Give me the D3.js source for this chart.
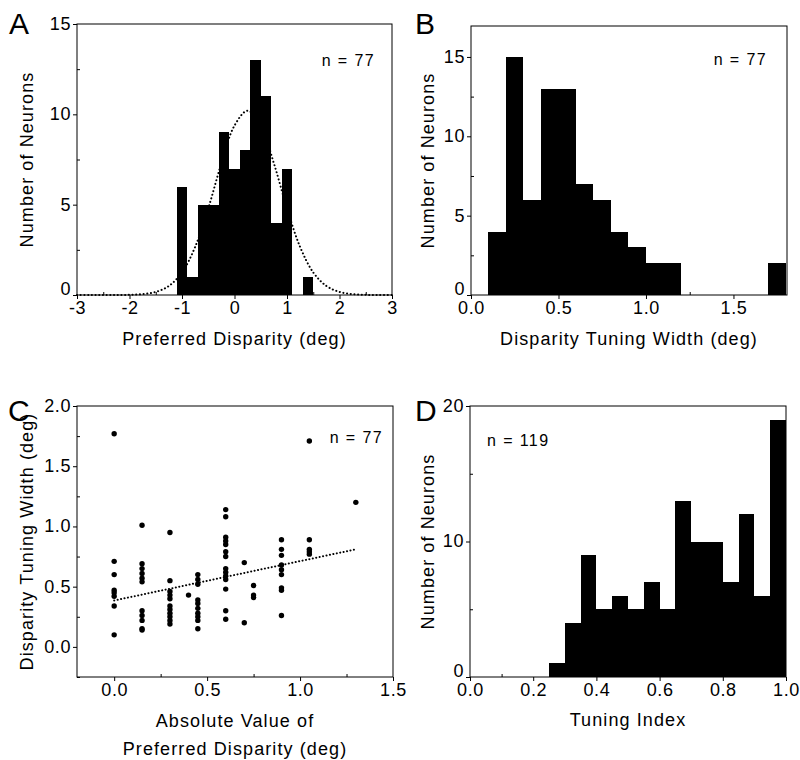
<html>
<head>
<meta charset="utf-8">
<style>
  body { margin: 0; background: #fff; }
  text { font-family: "Liberation Sans", Arial, sans-serif; fill: #000; }
</style>
</head>
<body>
<svg id="chart"></svg>
<script src="https://cdn.jsdelivr.net/npm/d3@7/dist/d3.min.js"></script>
<script>
// A: preferred disparity histogram (bin lower edges, width 0.2)
var dispBinStart = [-1.1, -0.9, -0.7, -0.5, -0.3, -0.1, 0.1, 0.3, 0.5, 0.7, 0.9, 1.3];
var dispCounts   = [6, 1, 5, 5, 9, 7, 8, 13, 11, 4, 7, 1];
var dispBinWidth = 0.2;
// dotted gaussian fit
var fitCurveX = [-3, -2.75, -2.5, -2.25, -2, -1.75, -1.5, -1.25, -1, -0.75, -0.5, -0.25, 0,
                 0.25, 0.5, 0.75, 1, 1.25, 1.5, 1.75, 2, 2.25, 2.5, 2.75, 3];
var fitCurveY = [0, 0, 0, 0.002, 0.01, 0.05, 0.17, 0.5, 1.25, 2.66, 4.79, 7.29, 9.38,
                 10.2, 9.38, 7.29, 4.79, 2.66, 1.25, 0.5, 0.17, 0.05, 0.01, 0, 0];

// B: disparity tuning width histogram (width 0.1)
var widthBinStart = [0.1, 0.2, 0.3, 0.4, 0.5, 0.6, 0.7, 0.8, 0.9, 1.0, 1.1, 1.7];
var widthCounts   = [4, 15, 6, 13, 13, 7, 6, 4, 3, 2, 2, 2];
var widthBinWidth = 0.1;

// C: scatter, |preferred disparity| columns and tuning widths
var scatterCols = [0, 0.15, 0.3, 0.4, 0.45, 0.6, 0.7, 0.75, 0.9, 1.05, 1.3];
var scatterVals = [
  [1.77, 0.71, 0.60, 0.47, 0.45, 0.42, 0.34, 0.10],
  [1.01, 0.69, 0.65, 0.61, 0.57, 0.54, 0.30, 0.26, 0.22, 0.15, 0.14],
  [0.95, 0.55, 0.46, 0.43, 0.40, 0.34, 0.31, 0.28, 0.25, 0.22, 0.19],
  [0.43],
  [0.60, 0.56, 0.52, 0.39, 0.36, 0.32, 0.28, 0.25, 0.22, 0.15],
  [1.14, 1.08, 0.91, 0.88, 0.85, 0.79, 0.75, 0.65, 0.62, 0.59, 0.56, 0.48, 0.30, 0.23],
  [0.70, 0.20],
  [0.51, 0.43, 0.41],
  [0.89, 0.81, 0.76, 0.68, 0.64, 0.60, 0.49, 0.47, 0.26],
  [1.71, 0.89, 0.81, 0.79, 0.77],
  [1.20]
];
var regX = [0, 1.3];
var regY = [0.385, 0.81];

// D: tuning index histogram (width 0.05)
var indexBinStart = [0.25, 0.3, 0.35, 0.4, 0.45, 0.5, 0.55, 0.6, 0.65, 0.7, 0.75, 0.8, 0.85, 0.9, 0.95];
var indexCounts   = [1, 4, 9, 5, 6, 5, 7, 5, 13, 10, 10, 7, 12, 6, 19];
var indexBinWidth = 0.05;

var svg = d3.select("svg#chart")
    .attr("width", 800)
    .attr("height", 760);

var LS = "1.1px";

// plain hyphen for negatives, like the original figure
function fmtInt(d) { return d < 0 ? "-" + Math.abs(d) : String(d); }
var fmt1 = d3.format(".1f");

function makePanel(o) {
    var w = o.right - o.left, h = o.bottom - o.top;
    var g = svg.append("g").attr("transform", "translate(" + o.left + "," + o.top + ")");
    var x = d3.scaleLinear().domain(o.xDomain).range([0, w]);
    var y = d3.scaleLinear().domain(o.yDomain).range([h, 0]);

    // minor ticks point inward
    g.append("g").attr("transform", "translate(0," + h + ")")
        .call(d3.axisBottom(x).tickValues(o.xMinor).tickSize(-3).tickFormat(""))
        .call(function(s) { s.select(".domain").remove(); });
    g.append("g")
        .call(d3.axisLeft(y).tickValues(o.yMinor).tickSize(-3).tickFormat(""))
        .call(function(s) { s.select(".domain").remove(); });

    var xa = g.append("g").attr("transform", "translate(0," + h + ")")
        .call(d3.axisBottom(x).tickValues(o.xTicks).tickSize(4).tickPadding(2).tickFormat(o.xFmt));
    var ya = g.append("g")
        .call(d3.axisLeft(y).tickValues(o.yTicks).tickSize(4).tickPadding(2).tickFormat(o.yFmt));
    [xa, ya].forEach(function(a) {
        a.select(".domain").remove();
        a.selectAll("text").style("font-size", "18px").style("letter-spacing", "0.6px");
    });
    // bottom y label sits a little above its tick, as in the original
    ya.selectAll("text").attr("dy", function(d) { return d === o.yDomain[0] ? "-0.05em" : "0.3em"; });
    svg.selectAll(".tick line").attr("stroke", "#000");

    var marks = g.append("g");

    g.append("rect")
        .attr("width", w).attr("height", h)
        .attr("fill", "none").attr("stroke", "#000").attr("stroke-width", 1);

    svg.append("text")
        .attr("x", o.letterX).attr("y", o.letterY)
        .style("font-size", "30px")
        .text(o.letter);

    svg.append("text")
        .attr("transform", "translate(" + o.yTitleX + "," + (o.top + h / 2) + ") rotate(-90)")
        .attr("text-anchor", "middle")
        .style("font-size", "18px").style("letter-spacing", LS)
        .text(o.yTitle);

    o.xTitle.forEach(function(t, i) {
        svg.append("text")
            .attr("x", o.left + w / 2).attr("y", o.xTitleY + i * 28)
            .attr("text-anchor", "middle")
            .style("font-size", "18px").style("letter-spacing", LS)
            .text(t);
    });

    return {g: marks, x: x, y: y, w: w, h: h};
}

function drawBars(p, starts, counts, bw) {
    p.g.selectAll("rect.bar")
        .data(starts.map(function(s, i) { return {x0: s, x1: s + bw, n: counts[i]}; }))
        .enter().append("rect")
        .attr("class", "bar")
        .attr("x", function(d) { return p.x(d.x0); })
        .attr("width", function(d) { return p.x(d.x1) - p.x(d.x0); })
        .attr("y", function(d) { return p.y(d.n); })
        .attr("height", function(d) { return p.y(0) - p.y(d.n); })
        .attr("fill", "#000")
        .attr("shape-rendering", "crispEdges");
}

function nLabel(p, tx, ty, anchor, txt) {
    p.g.append("text")
        .attr("x", tx).attr("y", ty)
        .attr("text-anchor", anchor)
        .style("font-size", "16px").style("letter-spacing", "1.4px")
        .text(txt);
}

// ---- A ----
var pA = makePanel({
    left: 77, right: 392, top: 24, bottom: 295,
    xDomain: [-3, 3], yDomain: [0, 15],
    xTicks: [-3, -2, -1, 0, 1, 2, 3], xMinor: [-2.5, -1.5, -0.5, 0.5, 1.5, 2.5],
    yTicks: [0, 5, 10, 15], yMinor: [2.5, 7.5, 12.5],
    xFmt: fmtInt, yFmt: fmtInt,
    letter: "A", letterX: 9, letterY: 34,
    yTitle: "Number of Neurons", yTitleX: 33,
    xTitle: ["Preferred Disparity (deg)"], xTitleY: 345
});
drawBars(pA, dispBinStart, dispCounts, dispBinWidth);
pA.g.append("path")
    .datum(fitCurveX.map(function(v, i) { return [v, fitCurveY[i]]; }))
    .attr("d", d3.line()
        .x(function(d) { return pA.x(d[0]); })
        .y(function(d) { return pA.y(d[1]); })
        .curve(d3.curveCatmullRom))
    .attr("fill", "none").attr("stroke", "#000")
    .attr("stroke-width", 2).attr("stroke-linecap", "round")
    .attr("stroke-dasharray", "0.1,3.6");
nLabel(pA, pA.w - 17, 42, "end", "n = 77");

// ---- B ----
var pB = makePanel({
    left: 471, right: 787, top: 26, bottom: 295,
    xDomain: [0, 1.806], yDomain: [0, 16.95],
    xTicks: [0, 0.5, 1.0, 1.5], xMinor: [0.25, 0.75, 1.25, 1.75],
    yTicks: [0, 5, 10, 15], yMinor: [2.5, 7.5, 12.5],
    xFmt: fmt1, yFmt: fmtInt,
    letter: "B", letterX: 415, letterY: 34,
    yTitle: "Number of Neurons", yTitleX: 434,
    xTitle: ["Disparity Tuning Width (deg)"], xTitleY: 345
});
drawBars(pB, widthBinStart, widthCounts, widthBinWidth);
nLabel(pB, pB.w - 20, 39, "end", "n = 77");

// ---- C ----
var pC = makePanel({
    left: 77, right: 393, top: 406, bottom: 677,
    xDomain: [-0.2, 1.5], yDomain: [-0.25, 2.0],
    xTicks: [0, 0.5, 1.0, 1.5], xMinor: [0.25, 0.75, 1.25],
    yTicks: [0, 0.5, 1.0, 1.5, 2.0], yMinor: [-0.25, 0.25, 0.75, 1.25, 1.75],
    xFmt: fmt1, yFmt: fmt1,
    letter: "C", letterX: 8, letterY: 421,
    yTitle: "Disparity Tuning Width (deg)", yTitleX: 33,
    xTitle: ["Absolute Value of", "Preferred Disparity (deg)"], xTitleY: 727
});
var pts = [];
scatterCols.forEach(function(c, i) {
    scatterVals[i].forEach(function(v) { pts.push([c, v]); });
});
pC.g.append("path")
    .datum(regX.map(function(v, i) { return [v, regY[i]]; }))
    .attr("d", d3.line()
        .x(function(d) { return pC.x(d[0]); })
        .y(function(d) { return pC.y(d[1]); }))
    .attr("fill", "none").attr("stroke", "#000")
    .attr("stroke-width", 2).attr("stroke-linecap", "round")
    .attr("stroke-dasharray", "0.1,3.4");
pC.g.selectAll("circle")
    .data(pts).enter().append("circle")
    .attr("cx", function(d) { return pC.x(d[0]); })
    .attr("cy", function(d) { return pC.y(d[1]); })
    .attr("r", 2.7)
    .attr("fill", "#000");
nLabel(pC, pC.w - 10, 37, "end", "n = 77");

// ---- D ----
var pD = makePanel({
    left: 470, right: 786, top: 406, bottom: 677,
    xDomain: [0, 1], yDomain: [0, 20],
    xTicks: [0, 0.2, 0.4, 0.6, 0.8, 1.0], xMinor: [0.1, 0.3, 0.5, 0.7, 0.9],
    yTicks: [0, 10, 20], yMinor: [5, 15],
    xFmt: fmt1, yFmt: fmtInt,
    letter: "D", letterX: 415, letterY: 421,
    yTitle: "Number of Neurons", yTitleX: 434,
    xTitle: ["Tuning Index"], xTitleY: 726
});
drawBars(pD, indexBinStart, indexCounts, indexBinWidth);
nLabel(pD, 17, 40, "start", "n = 119");
</script>
</body>
</html>
